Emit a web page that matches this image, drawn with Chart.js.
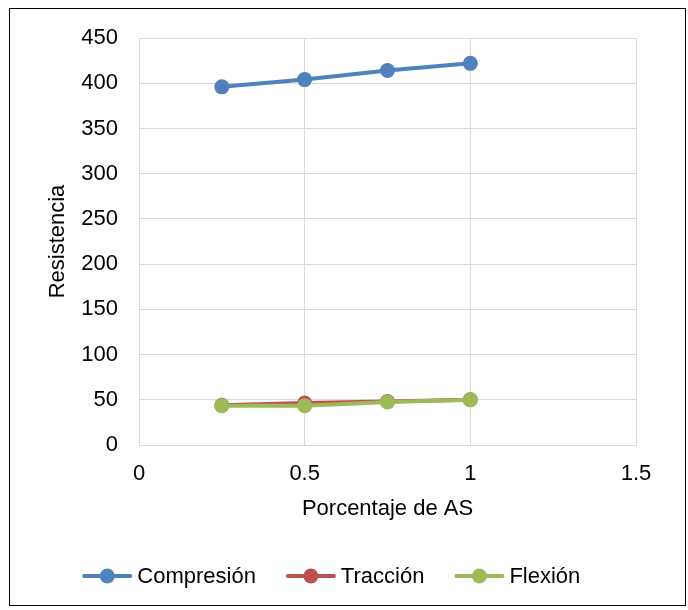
<!DOCTYPE html>
<html>
<head>
<meta charset="utf-8">
<script src="https://cdn.jsdelivr.net/npm/chart.js@4"></script>
<style>
    html, body { margin: 0; padding: 0; background: #fff; }
    #box {
        position: absolute; left: 9px; top: 8px;
        width: 677px; height: 598px;
        border: 1px solid #000; box-sizing: border-box;
    }
    #chart { display: block; }
</style>
</head>
<body>
<div id="box"><canvas id="chart" width="675" height="596"></canvas></div>
<script>
const porcentaje = [0.25, 0.5, 0.75, 1];
const compresion = [396, 404, 414, 422];
const traccion = [44, 46.5, 48, 50];
const flexion = [43.5, 43.5, 47.5, 50];

const seriesNames = ['Compresión', 'Tracción', 'Flexión'];
const seriesColors = ['#4f81bd', '#c0504d', '#9bbb59'];

const FONT = 'Liberation Sans, Arial, sans-serif';
const FS = 22;

function toPoints(values) {
    return porcentaje.map((x, i) => ({ x: x, y: values[i] }));
}

const seriesValues = [compresion, traccion, flexion];
const datasets = seriesNames.map((name, i) => ({
    label: name,
    data: toPoints(seriesValues[i]),
    borderColor: seriesColors[i],
    backgroundColor: seriesColors[i],
    borderWidth: 4,
    pointRadius: 7.5,
    pointHoverRadius: 7.5,
    pointBorderWidth: 0,
    order: seriesNames.length - 1 - i
}));

// legend drawn like Excel: line with a dot in the middle, then the label
const lineLegend = {
    id: 'lineLegend',
    afterDraw(chart) {
        const ctx = chart.ctx;
        ctx.save();
        ctx.font = FS + 'px ' + FONT;
        ctx.textBaseline = 'middle';
        const lineLen = 50, gapText = 5, gapItem = 30;
        const widths = seriesNames.map(n => lineLen + gapText + ctx.measureText(n).width);
        const total = widths.reduce((a, b) => a + b, 0) + gapItem * (seriesNames.length - 1);
        let x = chart.width * 0.476 - total / 2;
        const y = chart.height - 29;
        seriesNames.forEach((n, i) => {
            ctx.strokeStyle = seriesColors[i];
            ctx.fillStyle = seriesColors[i];
            ctx.lineWidth = 4;
            ctx.lineCap = 'round';
            ctx.beginPath();
            ctx.moveTo(x + 2, y);
            ctx.lineTo(x + lineLen - 2, y);
            ctx.stroke();
            ctx.beginPath();
            ctx.arc(x + lineLen / 2, y, 7.5, 0, Math.PI * 2);
            ctx.fill();
            ctx.fillStyle = '#000';
            ctx.fillText(n, x + lineLen + gapText, y + 1);
            x += widths[i] + gapItem;
        });
        ctx.restore();
    }
};

new Chart(document.getElementById('chart').getContext('2d'), {
    type: 'line',
    data: { datasets },
    options: {
        responsive: false,
        animation: false,
        layout: { padding: { left: 31, right: 49, top: 29, bottom: 80 } },
        plugins: { legend: { display: false }, tooltip: { enabled: false } },
        scales: {
            x: {
                type: 'linear',
                min: 0, max: 1.5,
                ticks: {
                    stepSize: 0.5, color: '#000', font: { family: FONT, size: FS }, padding: 16, maxRotation: 0,
                    callback: v => String(v)
                },
                grid: { color: '#d9d9d9', lineWidth: 1, drawTicks: false },
                border: { color: '#d9d9d9' },
                title: { display: true, text: 'Porcentaje de AS', color: '#000', font: { family: FONT, size: FS }, padding: { top: 4, bottom: 3 } },
                afterFit(scale) {
                    scale.height = 80;
                    scale.paddingLeft = 0;
                    scale.paddingRight = 0;
                }
            },
            y: {
                min: 0, max: 450,
                ticks: { stepSize: 50, color: '#000', font: { family: FONT, size: FS }, padding: 21 },
                grid: { color: '#d9d9d9', lineWidth: 1, drawTicks: false },
                border: { color: '#d9d9d9' },
                title: { display: true, text: 'Resistencia', color: '#000', font: { family: FONT, size: FS }, padding: 4 },
                afterFit(scale) {
                    scale.width = 98;
                    scale.paddingTop = 0;
                    scale.paddingBottom = 0;
                }
            }
        }
    },
    plugins: [lineLegend]
});
</script>
</body>
</html>
